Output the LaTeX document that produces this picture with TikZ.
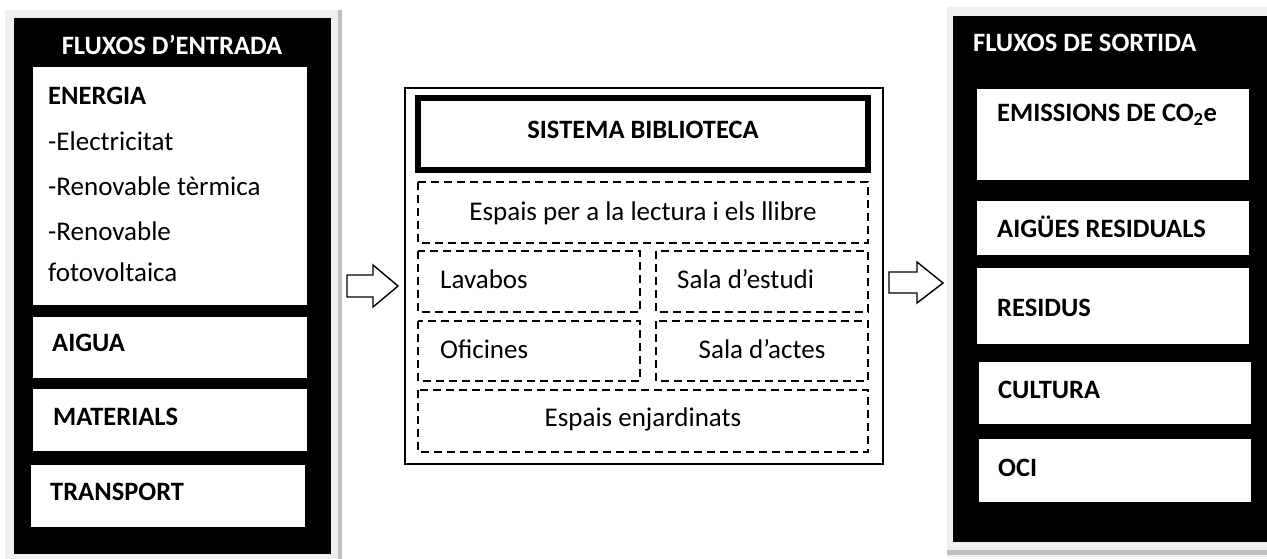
\documentclass[tikz,border=0pt]{standalone}
\usepackage{fontspec}
\setmainfont{Carlito}
\usepackage{tikz}
\usetikzlibrary{positioning}

\definecolor{shadegray}{HTML}{EFEFEF}
\definecolor{edgegray}{HTML}{C0C0C0}

\tikzset{
  panel/.style={fill=black,draw=none},
  whitebox/.style={fill=white,draw=none},
  zone/.style={draw,dashed,line width=2.5pt,dash pattern=on 8pt off 5pt},
  headbox/.style={draw,line width=6pt},
  blockarr/.style={draw,fill=white,line width=1.4pt,line join=miter},
  txt/.style={inner sep=0pt,font=\fontsize{27}{31}\selectfont},
  btxt/.style={txt,font=\fontsize{26.5}{31}\selectfont\bfseries},
  wtxt/.style={btxt,text=white}
}

\begin{document}
\begin{tikzpicture}[x=1pt,y=-1pt]
   \useasboundingbox[fill=white] (0,0) rectangle (1267,559);

   % fluxos d'entrada
   \fill[shadegray] (5,10) rectangle (342,559);
   \fill[edgegray] (338,10) rectangle (342,559);
   \path[panel] (14,18) rectangle (331,554);
   \draw (172,45) node[wtxt] (entrada) {FLUXOS D’ENTRADA};
   \path[whitebox] (33,67) rectangle (307,305);
   \path[whitebox] (33,317) rectangle (307,378);
   \path[whitebox] (33,389) rectangle (307,451);
   \path[whitebox] (31,465) rectangle (305,527);
     \draw (48,96) node[btxt,anchor=west] (energia) {ENERGIA};
     \draw (48,141) node[txt,anchor=west] (elec) {-Electricitat};
     \draw (48,186) node[txt,anchor=west] (term) {-Renovable tèrmica};
     \draw (48,231) node[txt,anchor=west] (renov) {-Renovable};
     \draw (48,272) node[txt,anchor=west] (foto) {fotovoltaica};
     \draw (52,343) node[btxt,anchor=west] (aigua) {AIGUA};
     \draw (53,417) node[btxt,anchor=west] (mat) {MATERIALS};
     \draw (50,492) node[btxt,anchor=west] (transp) {TRANSPORT};

   % sistema biblioteca
   \draw[line width=1.8pt] (405,88) rectangle (883,464);
   \draw[headbox] (418,98) rectangle (868,170);
   \draw (643,130) node[btxt] (sistema) {SISTEMA BIBLIOTECA};
   \draw[zone] (418,182) rectangle (868,243);
   \draw[zone] (418,251) rectangle (640,312);
   \draw[zone] (656,251) rectangle (868,312);
   \draw[zone] (418,321) rectangle (640,381);
   \draw[zone] (656,321) rectangle (868,381);
   \draw[zone] (418,390) rectangle (868,452);
     \draw (643,213) node[txt] (lectura) {Espais per a la lectura i els llibre};
     \draw (440,279) node[txt,anchor=west] (lavabos) {Lavabos};
     \draw (677,279) node[txt,anchor=west] (estudi) {Sala d’estudi};
     \draw (440,349) node[txt,anchor=west] (oficines) {Oficines};
     \draw (762,349) node[txt] (actes) {Sala d’actes};
     \draw (643,419) node[txt] (jardins) {Espais enjardinats};

   % fletxes
   \draw[blockarr] (347,275) -- (373,275) -- (373,265) -- (398,286)
       -- (373,307) -- (373,297) -- (347,297) -- cycle;
   \draw[blockarr] (889,272) -- (917,272) -- (917,262) -- (943,283)
       -- (917,303) -- (917,293) -- (889,293) -- cycle;

   % fluxos de sortida
   \fill[shadegray] (947,7) rectangle (1267,557);
   \fill[edgegray] (947,550) rectangle (1267,555);
   \path[panel] (953,16) rectangle (1267,542);
   \draw (973,43) node[wtxt,anchor=west] (sortida) {FLUXOS DE SORTIDA};
   \path[whitebox] (977,89) rectangle (1249,180);
   \path[whitebox] (977,201) rectangle (1249,255);
   \path[whitebox] (977,268) rectangle (1249,344);
   \path[whitebox] (979,362) rectangle (1251,424);
   \path[whitebox] (979,439) rectangle (1251,502);
     \draw (997,115) node[btxt,anchor=west] (emis) {EMISSIONS DE CO\textsubscript{2}e};
     \draw (997,227) node[btxt,anchor=west] (aigues) {AIGÜES RESIDUALS};
     \draw (997,308) node[btxt,anchor=west] (residus) {RESIDUS};
     \draw (998,390) node[btxt,anchor=west] (cultura) {CULTURA};
     \draw (998,468) node[btxt,anchor=west] (oci) {OCI};
\end{tikzpicture}
\end{document}
